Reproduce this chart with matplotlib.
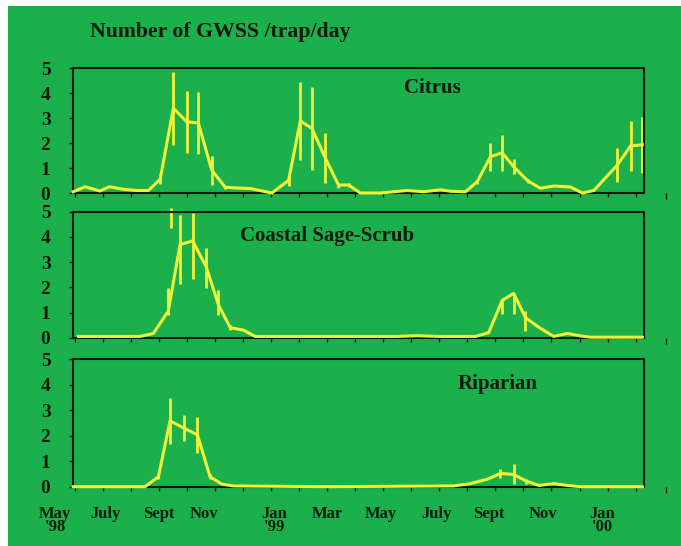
import matplotlib.pyplot as plt
from matplotlib.patches import Rectangle
import numpy as np

plt.rcParams['font.family'] = 'Liberation Serif'
plt.rcParams['font.weight'] = 'bold'

# months counted from May 1998 (0 = May '98)
citrus_x = [0.94, 1.36, 1.89, 2.23, 2.73, 3.2, 3.62, 4.04, 4.51, 4.99, 5.4, 5.88, 6.36, 6.77,
            7.25, 8.02, 8.62, 9.04, 9.45, 9.93, 10.4, 10.76, 11.18, 11.9, 12.85, 13.44, 14.04,
            14.4, 14.93, 15.35, 15.82, 16.24, 16.65, 17.15, 17.6, 18.08, 18.68, 19.1, 19.51,
            20.35, 20.82, 21.24]
citrus_y = [0.05, 0.25, 0.08, 0.25, 0.15, 0.1, 0.1, 0.55, 3.39, 2.85, 2.8, 0.92, 0.23, 0.2,
            0.18, 0.0, 0.5, 2.88, 2.59, 1.4, 0.32, 0.32, 0.0, 0.0, 0.1, 0.05, 0.13,
            0.07, 0.05, 0.45, 1.45, 1.61, 1.05, 0.49, 0.19, 0.28, 0.24, 0.0, 0.1,
            1.12, 1.88, 1.93]
citrus_err = [0, 0, 0, 0, 0, 0, 0, 0.2, 1.45, 1.23, 1.23, 0.58, 0.05, 0,
              0, 0, 0.2, 1.55, 1.65, 1.0, 0.1, 0.08, 0, 0, 0, 0, 0,
              0, 0, 0.1, 0.55, 0.72, 0.3, 0.08, 0, 0, 0, 0, 0,
              0.67, 1.0, 1.13]

sage_x = [1.12, 2.5, 3.32, 3.8, 4.33, 4.75, 5.2, 5.68, 6.12, 6.54, 7.01, 7.43, 9.0, 11.0,
          12.5, 13.2, 14.0, 15.29, 15.76, 16.24, 16.65, 17.07, 17.55, 18.08, 18.56, 19.04,
          19.4, 21.24]
sage_y = [0.05, 0.05, 0.05, 0.17, 1.06, 3.7, 3.84, 2.82, 1.3, 0.4, 0.3, 0.05, 0.05, 0.05,
          0.05, 0.08, 0.05, 0.05, 0.2, 1.48, 1.76, 0.8, 0.41, 0.05, 0.17, 0.07,
          0.02, 0.02]
sage_lo = [0, 0, 0, 0, 0.9, 2.12, 2.33, 1.96, 0.9, 0.3, 0.3, 0.05, 0.05, 0.05,
           0.05, 0.08, 0.05, 0.05, 0.2, 0.96, 0.96, 0.28, 0.41, 0.05, 0.17, 0.07,
           0.02, 0.02]
sage_hi = [0, 0, 0, 0, 1.96, 4.87, 4.94, 3.57, 1.89, 0.5, 0.3, 0.05, 0.05, 0.05,
           0.05, 0.08, 0.05, 0.05, 0.2, 1.55, 1.76, 1.07, 0.41, 0.05, 0.17, 0.07,
           0.02, 0.02]
sage_stray = (4.41, 4.34, 5.16)  # lone bar segment above the frame

rip_x = [0.94, 3.5, 3.98, 4.39, 4.89, 5.37, 5.82, 6.24, 6.65, 10.0, 14.5, 15.1, 15.7,
         16.18, 16.65, 17.1, 17.55, 18.08, 18.56, 19.04, 21.24]
rip_y = [0.0, 0.0, 0.39, 2.58, 2.29, 2.03, 0.39, 0.1, 0.03, 0.0, 0.03, 0.12, 0.29,
         0.52, 0.48, 0.22, 0.05, 0.12, 0.05, 0.0, 0.0]
rip_err = [0, 0, 0.1, 0.9, 0.52, 0.7, 0.1, 0, 0, 0, 0, 0, 0,
           0.19, 0.39, 0.1, 0, 0, 0, 0, 0]

month_labels = ["May\n'98", "July", "Sept", "Nov", "Jan\n'99", "Mar", "May", "July",
                "Sept", "Nov", "Jan\n'00"]
label_pos = [0.3, 2.1, 4.0, 5.6, 8.1, 10.0, 11.9, 13.9, 15.75, 17.7, 19.8]
stray_tick = 22.07  # extra tick drawn past the frame in every panel

green = '#1bb04c'
yellow = '#eef23a'
ink = '#0b1a0b'

fig = plt.figure(figsize=(6.81, 5.46), dpi=100, facecolor='white')
fig.patches.append(Rectangle((8 / 681, 0), 1, 1 - 6 / 546, transform=fig.transFigure,
                             facecolor=green, edgecolor='none', zorder=-1))

left, width = 72.7 / 681, (644 - 72.7) / 681
boxes = [(1 - 193 / 546, 125 / 546), (1 - 337.7 / 546, 126 / 546), (1 - 486.7 / 546, 127.7 / 546)]
axs = [fig.add_axes([left, b, width, h]) for b, h in boxes]

axs[0].plot(citrus_x, citrus_y, color=yellow, lw=2.2, clip_on=False, zorder=3)
axs[0].vlines(citrus_x, np.array(citrus_y) - np.array(citrus_err),
              np.array(citrus_y) + np.array(citrus_err), color=yellow, lw=2, clip_on=False)

axs[1].plot(sage_x, sage_y, color=yellow, lw=2.2, clip_on=False, zorder=3)
axs[1].vlines(sage_x, sage_lo, sage_hi, color=yellow, lw=2, clip_on=False)
axs[1].vlines(sage_stray[0], sage_stray[1], sage_stray[2], color=yellow, lw=2, clip_on=False)

axs[2].plot(rip_x, rip_y, color=yellow, lw=2.2, clip_on=False, zorder=3)
axs[2].vlines(rip_x, np.array(rip_y) - np.array(rip_err),
              np.array(rip_y) + np.array(rip_err), color=yellow, lw=2, clip_on=False)

for ax in axs:
    ax.set_facecolor(green)
    ax.set_xlim(0.92, 21.3)
    ax.set_ylim(0, 5)
    ax.set_yticks(range(6))
    ax.set_xticks(range(1, 22))
    ax.set_xticklabels([])
    for s in ax.spines.values():
        s.set_color(ink)
        s.set_linewidth(1.5)
    ax.tick_params(axis='y', length=3, width=1, color=ink, labelsize=14, labelcolor=ink, pad=13)
    ax.tick_params(axis='x', length=3, width=1, color=ink)
    ax.plot([stray_tick], [0], marker=3, markersize=4, color=ink, clip_on=False)

axs[0].text(0.629, 0.84, "Citrus", transform=axs[0].transAxes, ha='center', va='center',
            fontsize=15, color=ink)
axs[1].text(0.293, 0.807, "Coastal Sage-Scrub", transform=axs[1].transAxes, ha='left',
            va='center', fontsize=15, color=ink)
axs[2].text(0.674, 0.804, "Riparian", transform=axs[2].transAxes, ha='left', va='center',
            fontsize=15, color=ink)

for pos, lab in zip(label_pos, month_labels):
    axs[2].text(pos, -0.75, lab, transform=axs[2].transData,
                ha='center', va='top', fontsize=12, color=ink, linespacing=0.8, clip_on=False)

fig.text(90 / 681, 1 - 32 / 546, "Number of GWSS /trap/day", ha='left', va='center',
         fontsize=15.7, color=ink)

fig.savefig("out.png", dpi=100, facecolor=fig.get_facecolor())
